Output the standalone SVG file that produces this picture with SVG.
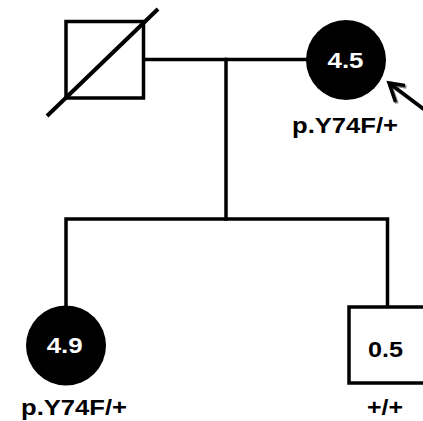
<svg xmlns="http://www.w3.org/2000/svg" width="423" height="421" viewBox="0 0 423 421">
  <defs>
    <style>
      .line { fill: none; stroke: #000; stroke-width: 3.5; stroke-linecap: square; }
      .node { stroke: #000; stroke-width: 3.5; }
      .lbl { font-family: "Liberation Sans", Arial, sans-serif; font-weight: bold; font-size: 22.5px; text-anchor: middle; }
      .in-dark { fill: #fff; }
      .in-light { fill: #000; }
      .arrow { fill: none; stroke-width: 3.5; stroke-linecap: butt; stroke-linejoin: miter; }
    </style>
  </defs>
  <rect width="423" height="421" fill="#fff"/>

  <!-- connectors: mating line, descent line, sibship line -->
  <g id="connectors">
    <line class="line" x1="144" y1="59.5" x2="306" y2="59.5"/>
    <line class="line" x1="226" y1="59.5" x2="226" y2="219"/>
    <polyline class="line" points="66,306 66,219 387.5,219 387.5,307" stroke-linejoin="miter"/>
  </g>

  <!-- father, deceased -->
  <g id="father">
    <rect class="node" x="66" y="21.5" width="77.5" height="76.5" fill="#fff"/>
    <line x1="47" y1="116" x2="158" y2="9" stroke="#000" stroke-width="4"/>
  </g>

  <!-- mother, proband -->
  <g id="mother">
    <circle cx="346" cy="60" r="40" fill="#000"/>
    <text class="lbl in-dark" x="345.5" y="67.5" textLength="36" lengthAdjust="spacingAndGlyphs">4.5</text>
    <text class="lbl in-light" x="345" y="132.5" textLength="106" lengthAdjust="spacingAndGlyphs">p.Y74F/+</text>
    <!-- proband arrow with shadow -->
    <g transform="translate(1.5,1.5)" stroke="#8a8a8a">
      <path class="arrow" d="M389,83 L425,110"/>
      <path class="arrow" d="M405,85.5 L389,83 L395.5,102"/>
    </g>
    <g stroke="#000">
      <path class="arrow" d="M389,83 L425,110"/>
      <path class="arrow" d="M405,85.5 L389,83 L395.5,102"/>
    </g>
  </g>

  <!-- daughter -->
  <g id="daughter">
    <circle cx="66" cy="345.5" r="40" fill="#000"/>
    <text class="lbl in-dark" x="64.7" y="352.5" textLength="36" lengthAdjust="spacingAndGlyphs">4.9</text>
    <text class="lbl in-light" x="74" y="415" textLength="106" lengthAdjust="spacingAndGlyphs">p.Y74F/+</text>
  </g>

  <!-- son -->
  <g id="son">
    <rect class="node" x="349" y="307" width="78" height="76" fill="#fff"/>
    <text class="lbl in-light" x="385.5" y="356.5" textLength="35" lengthAdjust="spacingAndGlyphs">0.5</text>
    <text class="lbl in-light" x="385" y="415" textLength="36" lengthAdjust="spacingAndGlyphs">+/+</text>
  </g>
</svg>
